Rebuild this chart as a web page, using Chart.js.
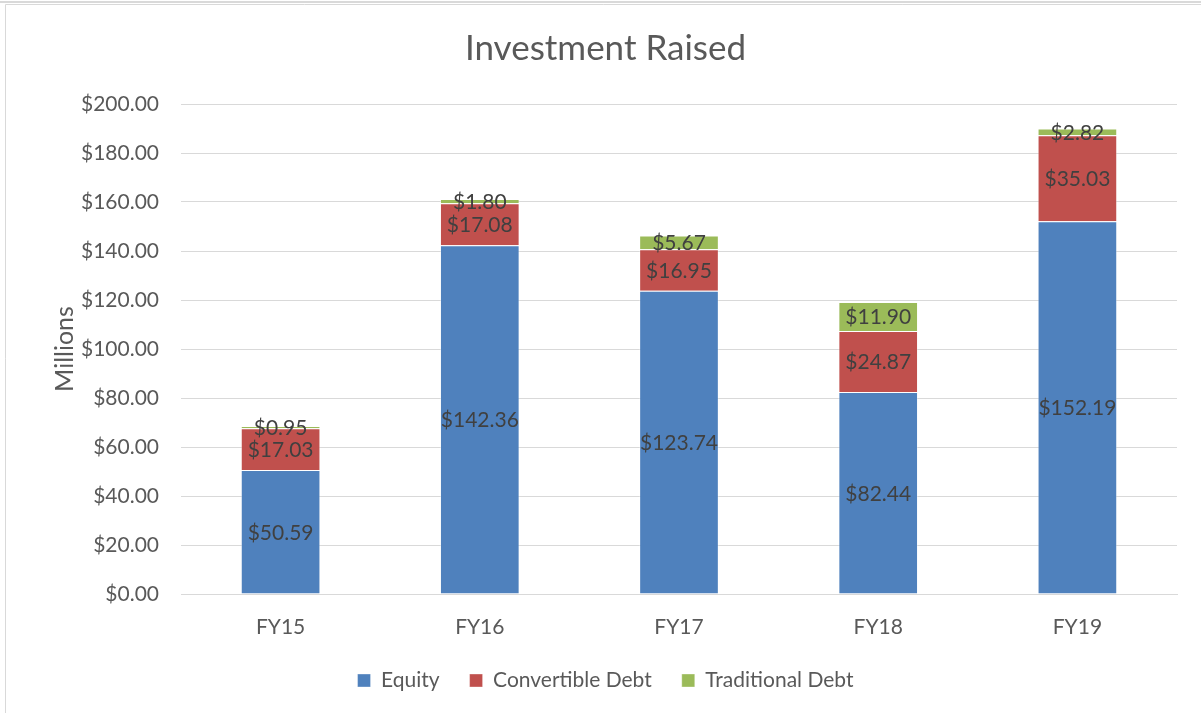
<!DOCTYPE html>
<html>
<head>
<meta charset="utf-8">
<script src="https://cdn.jsdelivr.net/npm/chart.js@4.4.0/dist/chart.umd.min.js"></script>
<style>
html,body{margin:0;padding:0;background:#fff;}
#wrap{position:relative;width:1201px;height:713px;}
</style>
</head>
<body>
<div id="wrap"><canvas id="c" width="1201" height="713"></canvas></div>
<script>
const categories = ["FY15", "FY16", "FY17", "FY18", "FY19"];
const equity = [50.59, 142.36, 123.74, 82.44, 152.19];
const convertibleDebt = [17.03, 17.08, 16.95, 24.87, 35.03];
const traditionalDebt = [0.95, 1.80, 5.67, 11.90, 2.82];
const seriesNames = ["Equity", "Convertible Debt", "Traditional Debt"];
const yTicks = [0, 20, 40, 60, 80, 100, 120, 140, 160, 180, 200];

const FONT = "Lato, 'Noto Sans', sans-serif";
const PAD_L = 34;
const AREA_LEFT = 181;

const frame = {
  id: 'frame',
  beforeDraw(chart) {
    const ctx = chart.ctx;
    ctx.save();
    ctx.fillStyle = '#fff';
    ctx.fillRect(0, 0, chart.width, chart.height);
    ctx.strokeStyle = '#d9d9d9';
    ctx.lineWidth = 2;
    ctx.beginPath();
    ctx.moveTo(0, 2); ctx.lineTo(chart.width, 2);
    ctx.stroke();
    ctx.lineWidth = 1;
    ctx.beginPath();
    ctx.moveTo(5.5, 4.5); ctx.lineTo(chart.width, 4.5);
    ctx.moveTo(5.5, 4.5); ctx.lineTo(5.5, chart.height);
    ctx.stroke();
    ctx.restore();
  }
};

const dataLabels = {
  id: 'dataLabels',
  afterDatasetsDraw(chart) {
    const ctx = chart.ctx;
    ctx.save();
    ctx.font = "21px " + FONT;
    ctx.fillStyle = '#404040';
    ctx.textAlign = 'center';
    ctx.textBaseline = 'middle';
    chart.data.datasets.forEach((ds, i) => {
      const meta = chart.getDatasetMeta(i);
      meta.data.forEach((el, j) => {
        const v = ds.data[j];
        const cy = (el.y + el.base) / 2;
        ctx.fillText('$' + v.toFixed(2), el.x, cy + 1);
      });
    });
    ctx.restore();
  }
};

const mk = (label, data, color) => ({
  label, data, backgroundColor: color,
  borderColor: 'rgba(255,255,255,0.35)', borderWidth: 1,
  barPercentage: 0.4, categoryPercentage: 1.0
});

new Chart(document.getElementById('c'), {
  type: 'bar',
  data: {
    labels: categories,
    datasets: [
      mk(seriesNames[0], equity, '#4F81BD'),
      mk(seriesNames[1], convertibleDebt, '#C0504D'),
      mk(seriesNames[2], traditionalDebt, '#9BBB59')
    ]
  },
  options: {
    responsive: false,
    animation: false,
    layout: { padding: { left: PAD_L, right: 24, top: 10, bottom: 12 } },
    plugins: {
      title: {
        display: true, text: 'Investment Raised', color: '#595959',
        font: { family: FONT, size: 35, weight: 'normal' },
        padding: { top: 18, bottom: 34 }
      },
      legend: {
        position: 'bottom',
        labels: {
          color: '#595959', boxWidth: 13, boxHeight: 13, padding: 30,
          font: { family: FONT, size: 21 }
        }
      },
      tooltip: { enabled: false }
    },
    scales: {
      x: {
        stacked: true,
        afterFit(scale) { scale.height = 46; },
        grid: { display: false, drawTicks: false },
        border: { display: true, color: '#d9d9d9', width: 1 },
        ticks: { color: '#595959', padding: 21, font: { family: FONT, size: 21 } }
      },
      y: {
        stacked: true, min: 0, max: 200,
        afterBuildTicks(scale) { scale.ticks = yTicks.map(v => ({ value: v })); },
        afterFit(scale) { scale.width = AREA_LEFT - PAD_L; },
        grid: { color: '#d9d9d9', lineWidth: 1, drawTicks: false },
        border: { display: false },
        title: { display: true, text: 'Millions', color: '#595959', font: { family: FONT, size: 25 }, padding: { top: 16, bottom: 2 } },
        ticks: {
          color: '#595959', padding: 22, font: { family: FONT, size: 21 },
          callback: v => '$' + Number(v).toFixed(2)
        }
      }
    }
  },
  plugins: [frame, dataLabels]
});
</script>
</body>
</html>
